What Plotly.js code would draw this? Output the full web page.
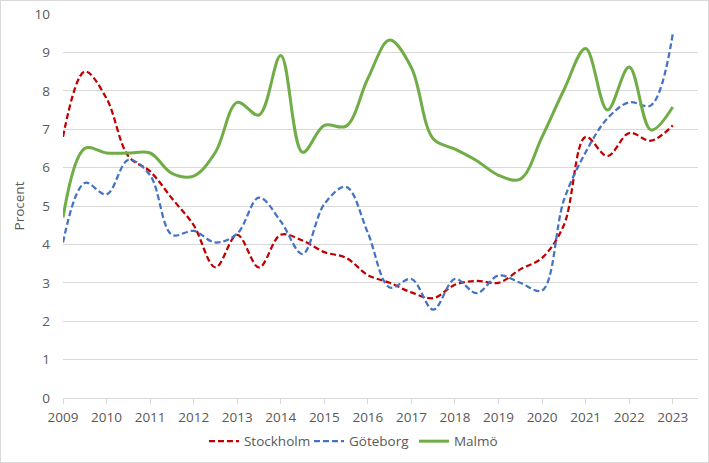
<!DOCTYPE html>
<html>
<head>
<meta charset="utf-8">
<script src="https://cdn.plot.ly/plotly-3.0.1.min.js"></script>
<style>
html,body{margin:0;padding:0;background:#fff;}
#chart{width:707px;height:461px;border:1px solid #d9d9d9;}
</style>
</head>
<body>
<div id="chart"></div>
<script>
const years = [2009,2009.5,2010,2010.5,2011,2011.5,2012,2012.5,2013,2013.5,2014,2014.5,2015,2015.5,2016,2016.5,2017,2017.5,2018,2018.5,2019,2019.5,2020,2020.5,2021,2021.5,2022,2022.5,2023];
const tickYears = [2009,2010,2011,2012,2013,2014,2015,2016,2017,2018,2019,2020,2021,2022,2023];
const stockholm = [6.8,8.5,7.8,6.3,5.9,5.2,4.5,3.4,4.25,3.4,4.25,4.1,3.8,3.65,3.2,3.0,2.75,2.6,2.95,3.05,3.0,3.35,3.65,4.5,6.8,6.3,6.9,6.7,7.1];
const goteborg = [4.05,5.6,5.3,6.2,5.8,4.25,4.35,4.05,4.28,5.22,4.6,3.75,5.05,5.5,4.3,2.88,3.1,2.3,3.1,2.73,3.19,3.0,2.8,5.15,6.4,7.28,7.7,7.62,9.48];
const malmo = [4.7,6.5,6.38,6.38,6.38,5.85,5.78,6.4,7.7,7.37,8.92,6.4,7.1,7.08,8.32,9.32,8.6,6.75,6.48,6.18,5.8,5.7,6.8,8.02,9.1,7.5,8.62,6.98,7.58];
const names = ['Stockholm','Göteborg','Malmö'];

const font = {family:'"Open Sans", "DejaVu Sans", sans-serif', size:13.5, color:'#595959'};

const traces = [
  {x:years, y:stockholm, name:names[0], mode:'lines', type:'scatter',
   line:{color:'#C00000', width:2.25, dash:'6px,3px', shape:'spline', smoothing:1}},
  {x:years, y:goteborg, name:names[1], mode:'lines', type:'scatter',
   line:{color:'#4472C4', width:2.25, dash:'6px,3px', shape:'spline', smoothing:1}},
  {x:years, y:malmo, name:names[2], mode:'lines', type:'scatter',
   line:{color:'#70AD47', width:3, shape:'spline', smoothing:1}}
];

const layout = {
  width:707, height:461,
  margin:{l:62, r:10, t:13, b:64, autoexpand:false},
  paper_bgcolor:'#fff', plot_bgcolor:'#fff',
  font:font,
  showlegend:true,
  legend:{orientation:'h', x:0.222, xanchor:'left', y:-0.113, yanchor:'middle', font:font,
    itemwidth:30, entrywidth:60, entrywidthmode:'pixels'},
  xaxis:{range:[2009, 2023.58], tickvals:tickYears, ticktext:tickYears.map(String), automargin:false,
    showgrid:false, zeroline:false, showline:true, linecolor:'#d9d9d9', linewidth:1,
    ticks:'outside', ticklen:5, tickcolor:'#d9d9d9', tickfont:font, ticklabelstandoff:2, fixedrange:true},
  yaxis:{range:[0,10], dtick:1, showgrid:true, gridcolor:'#d9d9d9', gridwidth:1, automargin:false,
    zeroline:false, showline:false, ticks:'', tickfont:font, ticklabelstandoff:12,
    title:{text:'Procent', font:font, standoff:6}, fixedrange:true}
};

Plotly.newPlot('chart', traces, layout, {displayModeBar:false, staticPlot:true});
</script>
</body>
</html>
